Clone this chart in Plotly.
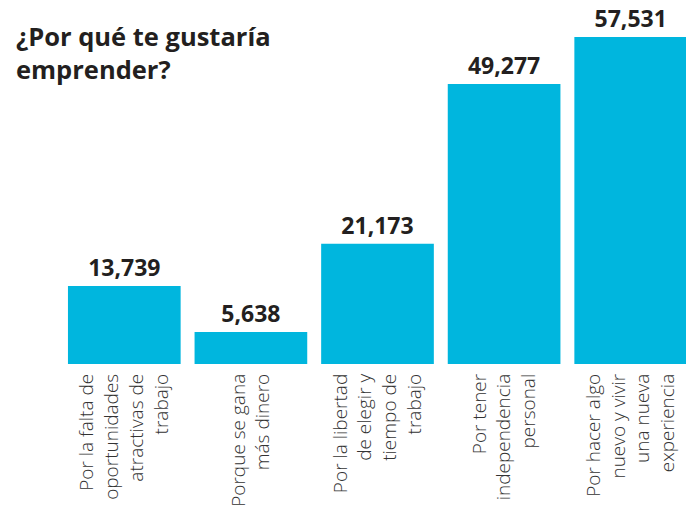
import plotly.graph_objects as go

# ------------------------------------------------------------
# 데이터
# ------------------------------------------------------------
TITLE = "¿Por qué te gustaría<br>emprender?"

categories = [
    "Por la falta de<br>oportunidades<br>atractivas de<br>trabajo",
    "Porque se gana<br>más dinero",
    "Por la libertad<br>de elegir y<br>tiempo de<br>trabajo",
    "Por tener<br>independencia<br>personal",
    "Por hacer algo<br>nuevo y vivir<br>una nueva<br>experiencia",
]
values = [13739, 5638, 21173, 49277, 57531]

BAR_COLOR = "#00B6DE"
TEXT_COLOR = "#231F20"
FONT_FAMILY = "Open Sans, Noto Sans, Arial"

fig = go.Figure()

# 막대 + 값 레이블 (막대 위)
fig.add_trace(go.Bar(
    x=categories,
    y=values,
    marker=dict(color=BAR_COLOR, line=dict(width=0)),
    texttemplate="<b>%{y:,}</b>",
    textposition="outside",
    textfont=dict(size=23, color=TEXT_COLOR, family=FONT_FAMILY),
    constraintext="none",
    cliponaxis=False,
    hoverinfo="skip",
))

# 제목
fig.add_annotation(
    x=-47 / 633, y=1 + 20 / 327,
    xref="paper", yref="paper",
    xanchor="left", yanchor="top",
    align="left",
    text=f"<b>{TITLE}</b>",
    showarrow=False,
    font=dict(size=25.5, color=TEXT_COLOR, family=FONT_FAMILY),
)

# 페이지 body 기본 여백(8px)을 고려한 크기
fig.update_layout(
    width=686,
    height=512,
    margin=dict(l=53, r=0, t=29, b=156),
    paper_bgcolor="white",
    plot_bgcolor="white",
    bargap=0.11,
    showlegend=False,
    uniformtext=dict(mode=False),
    font=dict(family=FONT_FAMILY, color=TEXT_COLOR),
    xaxis=dict(
        automargin=False,
        tickangle=-90,
        tickfont=dict(size=19, color="#333333", family=FONT_FAMILY, weight=300),
        showline=False,
        showgrid=False,
        ticks="",
        ticklabelstandoff=5,
    ),
    yaxis=dict(
        automargin=False,
        range=[0, 57531],
        visible=False,
        showgrid=False,
        zeroline=False,
    ),
)

fig.write_html("out.html")
